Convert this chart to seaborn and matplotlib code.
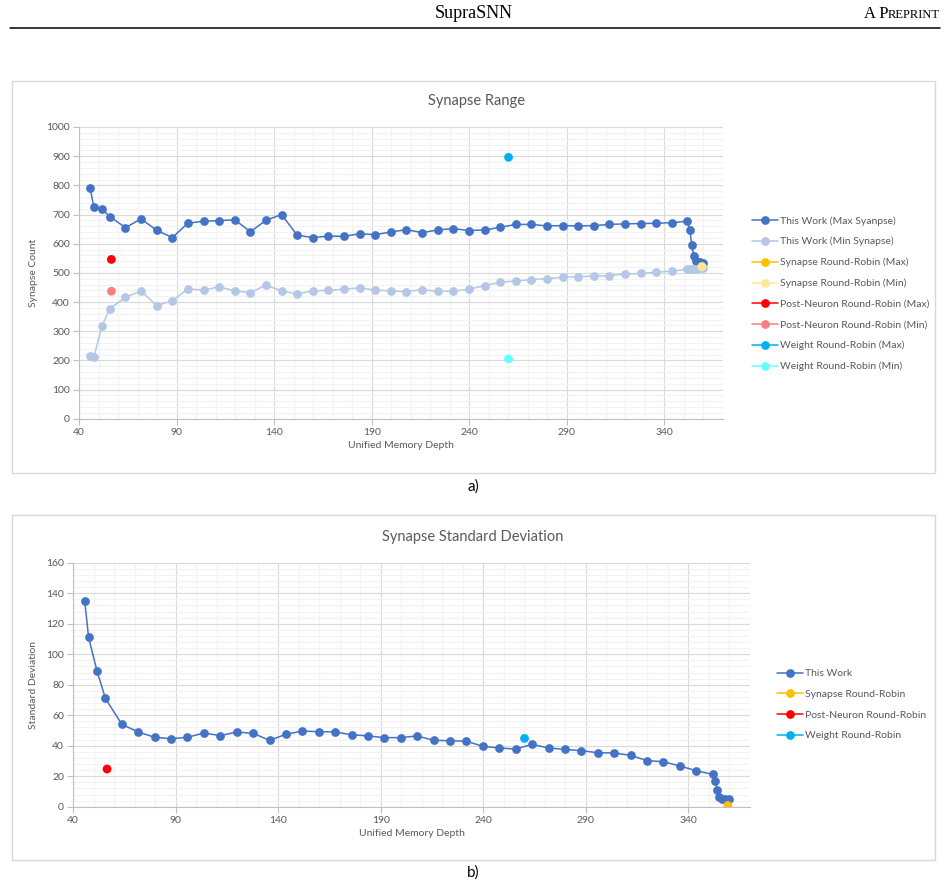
import numpy as np
import pandas as pd
import matplotlib
matplotlib.use("Agg")
import matplotlib.pyplot as plt
import seaborn as sns
from matplotlib.lines import Line2D
from matplotlib.patches import Rectangle
from matplotlib.ticker import MultipleLocator

# ---------------- data ----------------
depth = [45.7, 47.6, 51.7, 55.8, 63.8, 71.8, 79.8, 87.8, 95.8, 103.8, 111.8, 119.8,
         127.8, 135.8, 143.8, 151.8, 159.8, 167.8, 175.8, 183.8, 191.8, 199.8, 207.8,
         215.8, 223.8, 231.8, 239.8, 247.8, 255.8, 263.8, 271.8, 279.8, 287.8, 295.8,
         303.8, 311.8, 319.8, 327.8, 335.8, 343.8, 351.8, 353.0, 354.0, 355.0, 356.2,
         358.0, 359.6]
max_synapse = [790, 726, 718, 693, 655, 685, 646, 621, 670, 677, 679, 682, 641, 680,
               700, 629, 621, 626, 625, 634, 631, 640, 648, 638, 647, 652, 645, 647,
               656, 666, 666, 661, 662, 661, 662, 666, 668, 669, 670, 672, 677,
               647, 595, 558, 539, 536, 534]
min_synapse = [215, 210, 317, 377, 416, 438, 388, 404, 445, 441, 452, 438, 432, 458,
               438, 428, 438, 440, 444, 449, 441, 438, 436, 442, 437, 437, 444, 456,
               468, 472, 477, 480, 485, 487, 489, 490, 496, 498, 502, 506, 512,
               513, 513, 514, 514, 515, 515]
std_synapse = [135, 111, 89, 71, 54, 49, 45.5, 44.6, 45.5, 48.3, 46.6, 49, 48.1, 43.5,
               47.5, 49.6, 49.2, 49, 47.2, 46.4, 45.3, 45.3, 46.4, 43.5, 43.3, 42.9,
               39.6, 38.5, 37.8, 40.9, 38.5, 37.6, 36.7, 35.4, 35.2, 33.7, 30.2, 29.5,
               26.7, 23.6, 21.2, 16.9, 10.7, 6.6, 5.2, 5.0, 5.0]

syn_rr_depth = [359.2]
syn_rr_max = [522]
syn_rr_min = [521]
syn_rr_std = [0.8]

pn_rr_depth = [56.6]
pn_rr_max = [546]
pn_rr_min = [437]
pn_rr_std = [24.7]

w_rr_depth = [260.1]
w_rr_max = [896]
w_rr_min = [205]
w_rr_std = [44.8]

x_ticks = [40, 90, 140, 190, 240, 290, 340]

labels_a = ["This Work (Max Syanpse)", "This Work (Min Synapse)",
            "Synapse Round-Robin (Max)", "Synapse Round-Robin (Min)",
            "Post-Neuron Round-Robin (Max)", "Post-Neuron Round-Robin (Min)",
            "Weight Round-Robin (Max)", "Weight Round-Robin (Min)"]
labels_b = ["This Work", "Synapse Round-Robin", "Post-Neuron Round-Robin",
            "Weight Round-Robin"]

# ---------------- style ----------------
sns.set_theme(style="white")
plt.rcParams['font.family'] = ['Lato', 'DejaVu Sans']

C_DARK = "#4472C4"
C_LIGHT = "#B4C7E7"
C_GOLD = "#FFC000"
C_LYEL = "#FFE699"
C_RED = "#FF0000"
C_PINK = "#FF7C80"
C_BLUE = "#00B0F0"
C_CYAN = "#66FFFF"
TXT = "#595959"

W, H = 948, 889
fig = plt.figure(figsize=(W / 100, H / 100), dpi=100)
fig.patch.set_facecolor("white")


def fx(x):
    return x / W


def fy(y):
    return 1 - y / H


def axes_px(x0, y_top, x1, y_bot):
    return fig.add_axes([fx(x0), fy(y_bot), (x1 - x0) / W, (y_bot - y_top) / H])


# header
fig.text(fx(474), fy(13.5), "SupraSNN", ha="center", va="center",
         fontsize=13, family="Liberation Serif", color="black")
t_rep = fig.text(fx(940), fy(18), "REPRINT", ha="right", va="baseline",
                 fontsize=9, family="Liberation Serif", color="black")
fig.add_artist(Line2D([fx(10), fx(940)], [fy(27.5), fy(27.5)], color="black",
                      lw=1.1, transform=fig.transFigure))

# chart area boxes
for (x0, y0, x1, y1) in [(12, 81, 935, 473), (12, 515, 935, 860)]:
    fig.add_artist(Rectangle((fx(x0), fy(y1)), (x1 - x0) / W, (y1 - y0) / H,
                             transform=fig.transFigure, fill=False,
                             edgecolor="#D9D9D9", lw=1.0))


def style_axis(ax, ymax, ymajor, yminor):
    ax.set_xlim(40, 370)
    ax.set_ylim(0, ymax)
    ax.set_xticks(x_ticks)
    ax.xaxis.set_minor_locator(MultipleLocator(10))
    ax.yaxis.set_major_locator(MultipleLocator(ymajor))
    ax.yaxis.set_minor_locator(MultipleLocator(yminor))
    ax.grid(which="major", color="#D9D9D9", lw=0.8)
    ax.grid(which="minor", color="#F2F2F2", lw=0.8)
    ax.set_axisbelow(True)
    for s in ["top", "right"]:
        ax.spines[s].set_visible(False)
    for s in ["left", "bottom"]:
        ax.spines[s].set_color("#BFBFBF")
        ax.spines[s].set_linewidth(0.8)
    ax.tick_params(which="major", length=4.5, width=0.8, color="#BFBFBF",
                   labelsize=7.5, labelcolor=TXT, pad=2, left=True, bottom=True)
    ax.tick_params(which="minor", length=0)


def series(ax, x, y, color, z=2):
    sns.lineplot(x=x, y=y, ax=ax, color=color, marker="o", markersize=6.3,
                 markeredgewidth=0, linewidth=1.1, sort=False, estimator=None,
                 zorder=z)


def point(ax, x, y, color, z=3):
    sns.scatterplot(x=x, y=y, ax=ax, color=color, s=40, edgecolor="none",
                    linewidth=0, zorder=z)


def handle(color):
    return Line2D([0], [0], color=color, lw=1.1, marker="o", markersize=6.3,
                  markeredgewidth=0)


# ---------------- chart a ----------------
ax1 = axes_px(79, 127, 723, 418.7)
series(ax1, depth, max_synapse, C_DARK, 2)
series(ax1, depth, min_synapse, C_LIGHT, 3)
point(ax1, syn_rr_depth, syn_rr_max, C_GOLD, 4)
point(ax1, syn_rr_depth, syn_rr_min, C_LYEL, 5)
point(ax1, pn_rr_depth, pn_rr_max, C_RED, 4)
point(ax1, pn_rr_depth, pn_rr_min, C_PINK, 4)
point(ax1, w_rr_depth, w_rr_max, C_BLUE, 4)
point(ax1, w_rr_depth, w_rr_min, C_CYAN, 4)
style_axis(ax1, 1000, 100, 20)
ax1.set_xlabel("Unified Memory Depth", fontsize=7.5, color=TXT, labelpad=3)
ax1.set_ylabel("Synapse Count", fontsize=7.5, color=TXT, labelpad=6)
fig.text(fx(477), fy(101), "Synapse Range", ha="center", va="center",
         fontsize=10.5, color=TXT)
cols_a = [C_DARK, C_LIGHT, C_GOLD, C_LYEL, C_RED, C_PINK, C_BLUE, C_CYAN]
fig.legend([handle(c) for c in cols_a], labels_a, loc="upper left",
           bbox_to_anchor=(fx(752), fy(216)), frameon=False, fontsize=7.5,
           handlelength=2.45, handletextpad=0.25, labelspacing=1.09,
           borderpad=0, borderaxespad=0, labelcolor=TXT)
fig.text(fx(473), fy(487), "a)", ha="center", va="center", fontsize=11,
         color="black")

# ---------------- chart b ----------------
ax2 = axes_px(73, 562.7, 750, 806.7)
series(ax2, depth, std_synapse, C_DARK, 2)
point(ax2, syn_rr_depth, syn_rr_std, C_GOLD, 4)
point(ax2, pn_rr_depth, pn_rr_std, C_RED, 4)
point(ax2, w_rr_depth, w_rr_std, C_BLUE, 4)
style_axis(ax2, 160, 20, 4)
ax2.set_xlabel("Unified Memory Depth", fontsize=7.5, color=TXT, labelpad=3)
ax2.set_ylabel("Standard Deviation", fontsize=7.5, color=TXT, labelpad=6)
fig.text(fx(473), fy(537), "Synapse Standard Deviation", ha="center",
         va="center", fontsize=10.5, color=TXT)
cols_b = [C_DARK, C_GOLD, C_RED, C_BLUE]
fig.legend([handle(c) for c in cols_b], labels_b, loc="upper left",
           bbox_to_anchor=(fx(777), fy(669)), frameon=False, fontsize=7.5,
           handlelength=2.45, handletextpad=0.25, labelspacing=1.09,
           borderpad=0, borderaxespad=0, labelcolor=TXT)
fig.text(fx(473), fy(873), "b)", ha="center", va="center", fontsize=11,
         color="black")

# small-caps "A PREPRINT"
fig.canvas.draw()
bb = t_rep.get_window_extent(renderer=fig.canvas.get_renderer())
fig.text(bb.x0 / W, fy(18), "A P", ha="right", va="baseline",
         fontsize=12, family="Liberation Serif", color="black")

fig.savefig("out.png", dpi=100, facecolor="white")
